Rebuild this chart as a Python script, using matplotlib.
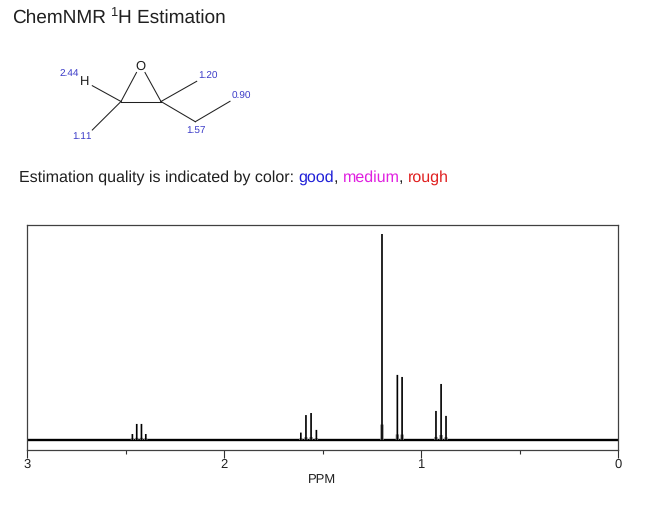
import matplotlib
matplotlib.use("Agg")
import matplotlib.pyplot as plt

plt.rcParams['font.family'] = ['Liberation Sans', 'DejaVu Sans']
plt.rcParams['text.hinting'] = 'none'
plt.rcParams['text.hinting_factor'] = 1

W, H = 650, 505

# Spectrum: peak positions (ppm) and intensities (relative to tallest peak)
peak_ppm = [2.465, 2.443, 2.419, 2.397,
            1.610, 1.584, 1.558, 1.531,
            1.198,
            1.120, 1.096,
            0.924, 0.898, 0.873]
peak_int = [0.029, 0.078, 0.078, 0.029,
            0.036, 0.121, 0.131, 0.049,
            1.000,
            0.316, 0.306,
            0.141, 0.272, 0.117]
major_ticks = [3, 2, 1, 0]
minor_ticks = [2.5, 1.5, 0.5]
tick_labels = ['3', '2', '1', '0']

# Molecule diagram, in page pixels
bonds = [((92.3, 85.7), (121, 101.5)),
         ((92.3, 130), (121, 101.5)),
         ((121, 101.5), (161, 101.5)),
         ((121, 101.5), (136.5, 72.5)),
         ((161, 101.5), (145, 72.5)),
         ((161, 101.5), (196.7, 81.3)),
         ((161, 101.5), (195.3, 121.7)),
         ((195.3, 121.7), (230, 101.3))]
atoms = [('H', 85, 81.5), ('O', 140, 66.5)]
shifts = [('2.44', 59, 73.5), ('1.20', 198, 76.5), ('0.90', 232, 96.5),
          ('1.57', 186, 130.5), ('1.11', 72, 136.5)]

quality = [('Estimation quality is indicated by color: ', 19, '#202020'),
           ('good', 298, '#2020d8'), (',', 334, '#202020'),
           ('medium', 343, '#e020e0'), (',', 399, '#202020'),
           ('rough', 408, '#e02020')]

fig = plt.figure(figsize=(W / 100, H / 100), dpi=100, facecolor='white')

# plot area in pixels: x 27..618, y 225..450
ax = fig.add_axes([27 / W, 1 - 450 / H, (618 - 27) / W, (450 - 225) / H])
ax.set_xlim(3, 0)
ax.set_ylim(-10 / 206, 215 / 206)
ax.hlines(0, 3, 0, color='black', lw=1.7)
# grey foot under each peak, then the peak itself
ax.vlines(peak_ppm, 0, [0.07 * v + 0.005 for v in peak_int], color='#808080', lw=2.4, snap=False)
ax.vlines(peak_ppm, 0, peak_int, color='black', lw=1.2, snap=False)
ax.set_yticks([])
ax.set_xticks(major_ticks)
ax.set_xticklabels(tick_labels, fontsize=9.2, color='#202020')
ax.set_xticks(minor_ticks, minor=True)
ax.tick_params(axis='x', which='major', length=5.6, width=0.8, color='#303030', pad=0.5)
ax.tick_params(axis='x', which='minor', length=3.2, width=0.8, color='#303030')
for s in ax.spines.values():
    s.set_linewidth(0.9)
    s.set_color('#404040')
ax.set_xlabel('PPM', fontsize=9.4, color='#202020', labelpad=2.0)

# page overlay in pixel coordinates
pg = fig.add_axes([0, 0, 1, 1], facecolor='none')
pg.set_xlim(0, W)
pg.set_ylim(H, 0)
pg.axis('off')

pg.text(12, 23, 'ChemNMR', fontsize=13.5, color='#202020', va='baseline')
pg.text(110.5, 16, '1', fontsize=9, color='#202020', va='baseline')
pg.text(118, 23, 'H Estimation', fontsize=13.4, color='#202020', va='baseline')

for txt, x, col in quality:
    pg.text(x, 182, txt, fontsize=11.3, color=col, va='baseline')

for a, b in bonds:
    pg.plot([a[0], b[0]], [a[1], b[1]], color='#202020', lw=0.75)
for t, x, y in atoms:
    pg.text(x, y, t, fontsize=9.2, color='#202020', ha='center', va='center')
for t, x, y in shifts:
    pg.text(x, y, t, fontsize=6.9, color='#3a3ac8', ha='left', va='center')

fig.savefig('out.png', dpi=100)
